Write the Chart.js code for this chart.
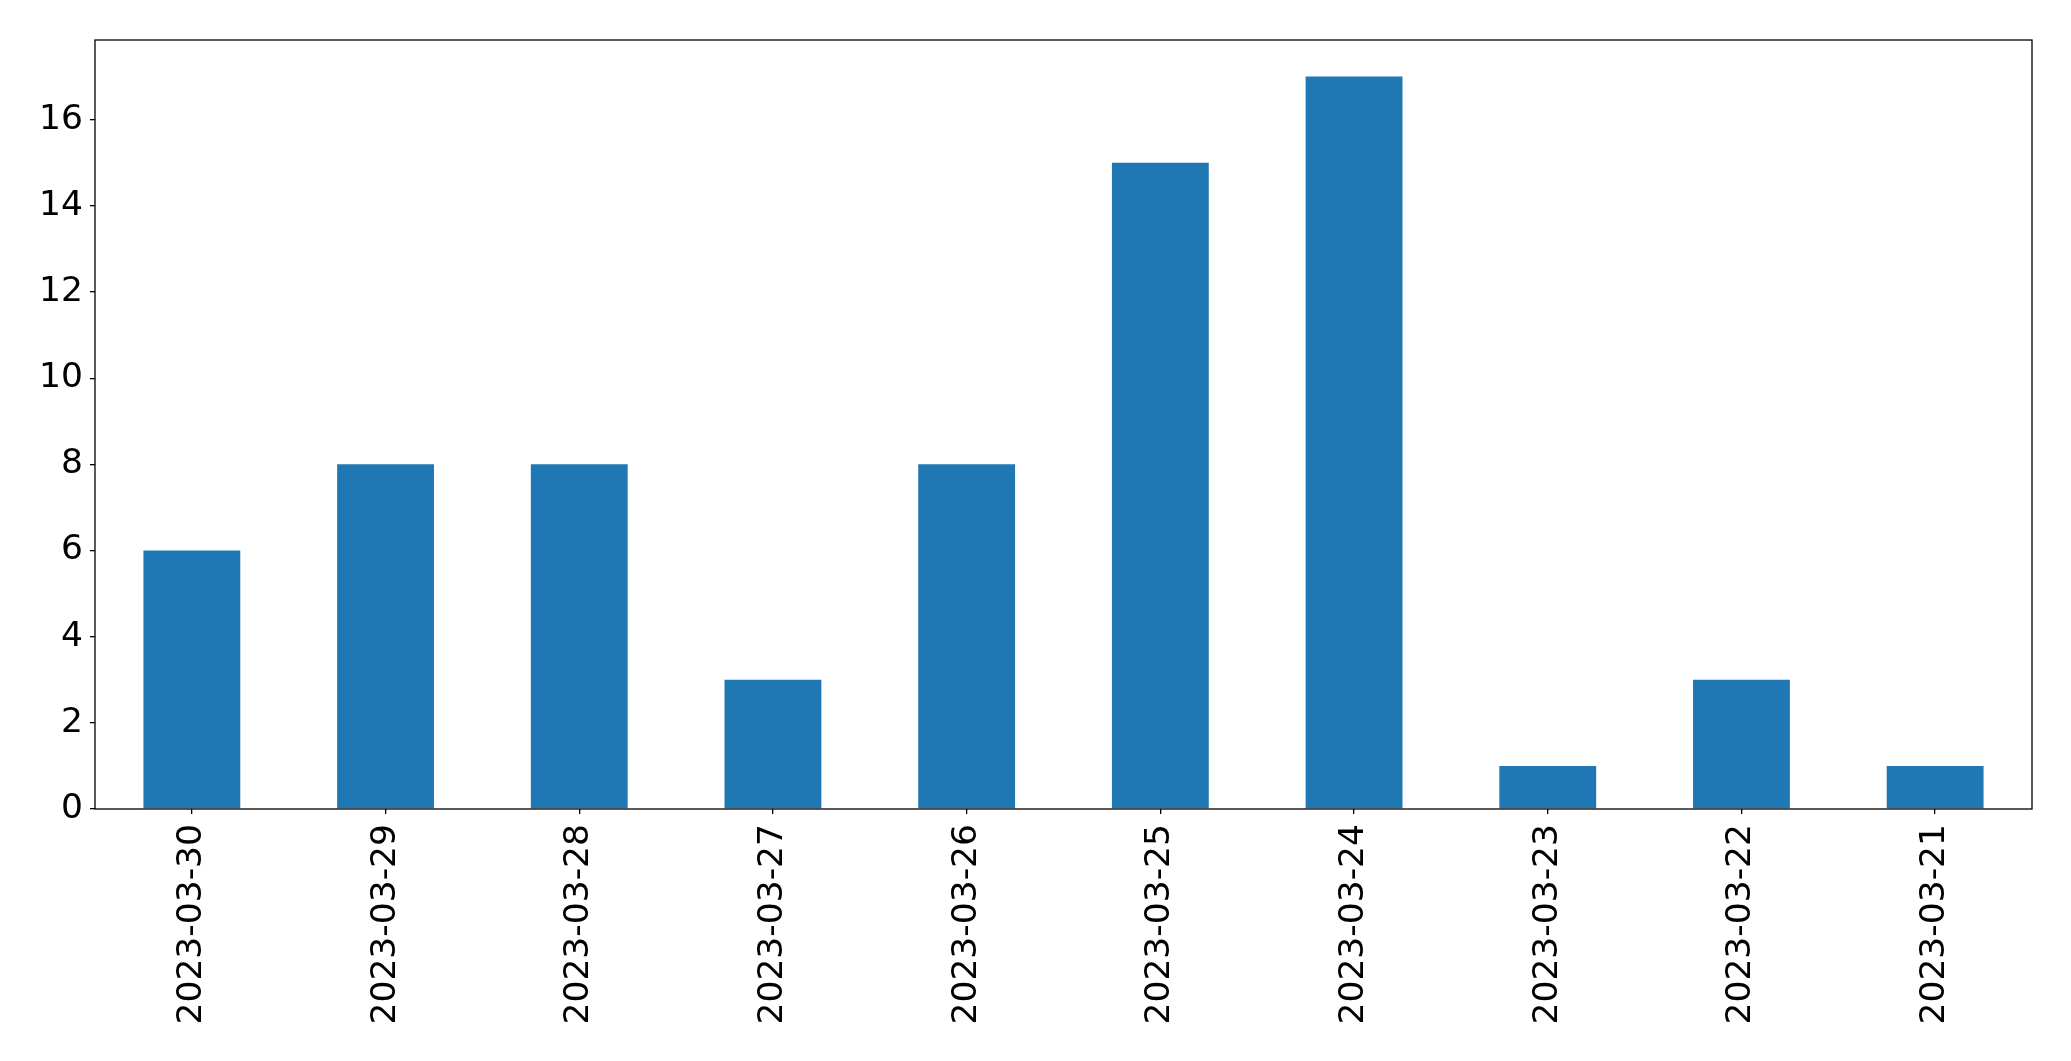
<!DOCTYPE html>
<html>
<head>
<meta charset="utf-8">
<script src="https://cdn.jsdelivr.net/npm/chart.js@4.4.1/dist/chart.umd.min.js"></script>
<style>
  html, body { margin: 0; padding: 0; background: #fff; }
  #wrap { width: 2071px; height: 1061px; position: relative; }
</style>
</head>
<body>
<div id="wrap"><canvas id="chartDias"></canvas></div>
<script>
const FECHAS  = ['2023-03-30','2023-03-29','2023-03-28','2023-03-27','2023-03-26',
                 '2023-03-25','2023-03-24','2023-03-23','2023-03-22','2023-03-21'];
const CONTEOS = [6, 8, 8, 3, 8, 15, 17, 1, 3, 1];
const Y_TICKS = [0, 2, 4, 6, 8, 10, 12, 14, 16];
const Y_MAX   = 17.85;

const AZUL  = '#1f77b4';
const FUENTE = { family: '"DejaVu Sans", sans-serif', size: 34.5 };

// marco completo alrededor del área del gráfico (estilo matplotlib)
const marco = {
  id: 'marco',
  afterDatasetsDraw(chart) {
    const { ctx, chartArea: a } = chart;
    ctx.save();
    ctx.strokeStyle = '#000';
    ctx.lineWidth = 1.3;
    ctx.strokeRect(a.left, a.top, a.right - a.left, a.bottom - a.top);
    ctx.restore();
  }
};

new Chart(document.getElementById('chartDias'), {
  type: 'bar',
  data: {
    labels: FECHAS,
    datasets: [{
      data: CONTEOS,
      backgroundColor: AZUL,
      borderWidth: 0,
      barPercentage: 0.5,
      categoryPercentage: 1.0,
    }],
  },
  options: {
    responsive: true,
    maintainAspectRatio: false,
    animation: false,
    layout: { padding: { top: 40, right: 39, left: 0, bottom: 0 } },
    plugins: { legend: { display: false }, tooltip: { enabled: false } },
    scales: {
      x: {
        grid: { display: true, offset: false, drawOnChartArea: false, drawTicks: true, tickLength: 5, color: '#000', lineWidth: 1.3 },
        border: { display: false },
        ticks: { color: '#000', font: FUENTE, minRotation: 90, maxRotation: 90, padding: 10, autoSkip: false },
        afterFit: s => { s.height = 252; },
      },
      y: {
        min: 0,
        max: Y_MAX,
        grid: { display: true, drawOnChartArea: false, drawTicks: true, tickLength: 5, color: '#000', lineWidth: 1.3 },
        border: { display: false },
        ticks: { color: '#000', font: FUENTE, padding: 7 },
        afterBuildTicks: s => { s.ticks = Y_TICKS.map(v => ({ value: v })); },
        afterFit: s => { s.width = 95; },
      },
    },
  },
  plugins: [marco],
});
</script>
</body>
</html>
